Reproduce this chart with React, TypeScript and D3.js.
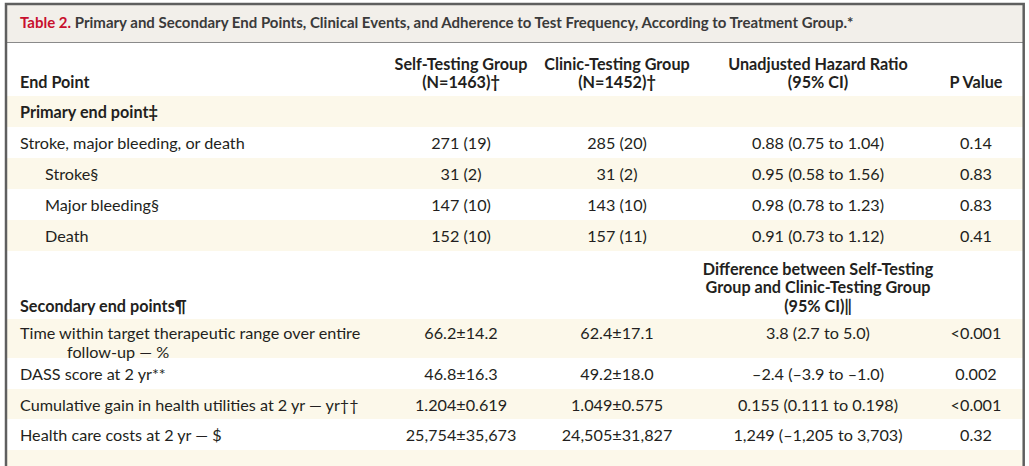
import React from "react";
import * as d3 from "d3";

const W = 1029;
const H = 466;

const titleLead = "Table 2.";
const titleRest = " Primary and Secondary End Points, Clinical Events, and Adherence to Test Frequency, According to Treatment Group.*";

const columnKeys = ["self", "clinic", "effect", "p"];
const columnHeaderLine1 = ["Self-Testing Group", "Clinic-Testing Group", "Unadjusted Hazard Ratio", ""];
const columnHeaderLine2 = ["(N=1463)†", "(N=1452)†", "(95% CI)", "P Value"];

const primaryTitle = "Primary end point‡";
const primaryLabels = ["Stroke, major bleeding, or death", "Stroke§", "Major bleeding§", "Death"];
const primaryIndent = [false, true, true, true];
const primarySelf = ["271 (19)", "31 (2)", "147 (10)", "152 (10)"];
const primaryClinic = ["285 (20)", "31 (2)", "143 (10)", "157 (11)"];
const primaryHR = ["0.88 (0.75 to 1.04)", "0.95 (0.58 to 1.56)", "0.98 (0.78 to 1.23)", "0.91 (0.73 to 1.12)"];
const primaryP = ["0.14", "0.83", "0.83", "0.41"];

const secondaryTitle = "Secondary end points¶";
const secondaryEffectHeader = ["Difference between Self-Testing", "Group and Clinic-Testing Group", "(95% CI)‖"];
const secondaryLabels = [
  ["Time within target therapeutic range over entire", "follow-up — %"],
  ["DASS score at 2 yr**"],
  ["Cumulative gain in health utilities at 2 yr — yr††"],
  ["Health care costs at 2 yr — $"],
];
const secondarySelf = ["66.2±14.2", "46.8±16.3", "1.204±0.619", "25,754±35,673"];
const secondaryClinic = ["62.4±17.1", "49.2±18.0", "1.049±0.575", "24,505±31,827"];
const secondaryDiff = ["3.8 (2.7 to 5.0)", "–2.4 (–3.9 to –1.0)", "0.155 (0.111 to 0.198)", "1,249 (–1,205 to 3,703)"];
const secondaryP = ["<0.001", "0.002", "<0.001", "0.32"];

const FONT = "Lato, 'Open Sans', sans-serif";
const TXT = "#231f20";
const BEIGE = "#fcf8ea";
const TITLE_BG = "#f2efea";

export default function App() {
  const colX = d3.scaleOrdinal<string, number>().domain(columnKeys).range([461, 617, 818, 976]);

  const primaryRowTop = d3.scaleLinear().domain([0, 1]).range([127, 158]);
  const rowH = 31;

  const secTops = [319, 358, 389, 419];
  const secHeights = [39, 31, 30, 31];

  const fs = 16.2;

  return (
    <svg width={W} height={H} style={{ position: "absolute", left: 0, top: 0, background: "#fff" }} fontFamily={FONT}>
      <rect x={6} y={4} width={1018} height={38} fill={TITLE_BG} />
      <line x1={6} x2={1024} y1={42.5} y2={42.5} stroke="#8a8a8a" strokeWidth={1} />
      <text x={20} y={22} dominantBaseline="central" fontSize={15} fontWeight={700} fill="#3a3a3a">
        <tspan fill="#c8102e">{titleLead}</tspan>
        <tspan>{titleRest}</tspan>
      </text>

      <text x={20} y={81} dominantBaseline="central" fontSize={fs} fontWeight={700} fill={TXT}>End Point</text>
      {columnKeys.map((k, i) => (
        <g key={k}>
          {columnHeaderLine1[i] && (
            <text x={colX(k)} y={63} textAnchor="middle" dominantBaseline="central" fontSize={fs} fontWeight={700} fill={TXT}>
              {columnHeaderLine1[i]}
            </text>
          )}
          <text x={colX(k)} y={81} textAnchor="middle" dominantBaseline="central" fontSize={fs} fontWeight={700} fill={TXT}>
            {columnHeaderLine2[i]}
          </text>
        </g>
      ))}

      <rect x={7} y={96} width={1016} height={31} fill={BEIGE} />
      <text x={20} y={111} dominantBaseline="central" fontSize={fs} fontWeight={700} fill={TXT}>{primaryTitle}</text>
      {primaryLabels.map((lab, i) => {
        const top = primaryRowTop(i);
        const cy = top + rowH / 2;
        return (
          <g key={lab}>
            {i % 2 === 1 && <rect x={7} y={top} width={1016} height={rowH} fill={BEIGE} />}
            <text x={primaryIndent[i] ? 45 : 20} y={cy} dominantBaseline="central" fontSize={fs} fill={TXT}>{lab}</text>
            <text x={colX("self")} y={cy} textAnchor="middle" dominantBaseline="central" fontSize={fs} fill={TXT}>{primarySelf[i]}</text>
            <text x={colX("clinic")} y={cy} textAnchor="middle" dominantBaseline="central" fontSize={fs} fill={TXT}>{primaryClinic[i]}</text>
            <text x={colX("effect")} y={cy} textAnchor="middle" dominantBaseline="central" fontSize={fs} fill={TXT}>{primaryHR[i]}</text>
            <text x={colX("p")} y={cy} textAnchor="middle" dominantBaseline="central" fontSize={fs} fill={TXT}>{primaryP[i]}</text>
          </g>
        );
      })}

      {secondaryEffectHeader.map((t, i) => (
        <text key={t} x={colX("effect")} y={268 + i * 18.5} textAnchor="middle" dominantBaseline="central" fontSize={fs} fontWeight={700} fill={TXT}>{t}</text>
      ))}
      <text x={20} y={305} dominantBaseline="central" fontSize={fs} fontWeight={700} fill={TXT}>{secondaryTitle}</text>

      {secondaryLabels.map((lines, i) => {
        const top = secTops[i];
        const h = secHeights[i];
        const cy = lines.length > 1 ? top + 13.5 : top + h / 2;
        return (
          <g key={lines[0]}>
            {i % 2 === 0 && <rect x={7} y={top} width={1016} height={h} fill={BEIGE} />}
            {lines.map((ln, j) => (
              <text key={ln} x={j === 0 ? 20 : 67} y={cy + j * 19} dominantBaseline="central" fontSize={fs} fill={TXT}>{ln}</text>
            ))}
            <text x={colX("self")} y={cy} textAnchor="middle" dominantBaseline="central" fontSize={fs} fill={TXT}>{secondarySelf[i]}</text>
            <text x={colX("clinic")} y={cy} textAnchor="middle" dominantBaseline="central" fontSize={fs} fill={TXT}>{secondaryClinic[i]}</text>
            <text x={colX("effect")} y={cy} textAnchor="middle" dominantBaseline="central" fontSize={fs} fill={TXT}>{secondaryDiff[i]}</text>
            <text x={colX("p")} y={cy} textAnchor="middle" dominantBaseline="central" fontSize={fs} fill={TXT}>{secondaryP[i]}</text>
          </g>
        );
      })}
      <rect x={7} y={450} width={1016} height={16} fill={BEIGE} />

      <path d={`M6,${H + 5} V4 H1023.7 V${H + 5}`} fill="none" stroke="#5f5f5f" strokeWidth={2.5} />
    </svg>
  );
}
